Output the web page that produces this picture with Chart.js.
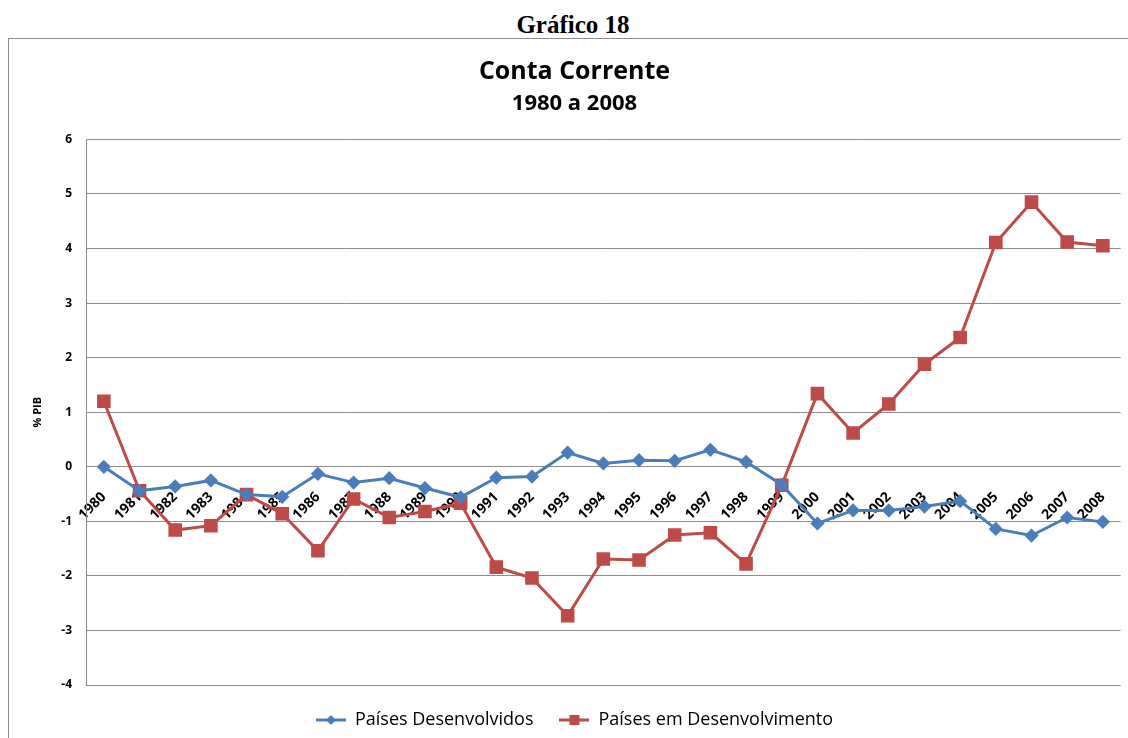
<!DOCTYPE html>
<html>
<head>
<meta charset="utf-8">
<script src="https://cdn.jsdelivr.net/npm/chart.js@4.4.1/dist/chart.umd.min.js"></script>
<style>
  html, body { margin: 0; padding: 0; background: #fff; width: 1128px; height: 738px; overflow: hidden; }
  #heading { position: absolute; left: 0; top: 10px; width: 1146px; text-align: center;
    font-family: "Liberation Serif", "DejaVu Serif", serif; font-weight: bold; font-size: 25px; color: #000; line-height: 30px; }
  #frame { position: absolute; left: 8px; top: 38px; width: 1140px; height: 720px; border: 1px solid #8c8c8c; box-sizing: border-box; }
  #wrap { position: absolute; left: 9px; top: 39px; width: 1128px; height: 700px; }
</style>
</head>
<body>
<div id="heading">Gráfico 18</div>
<div id="frame"></div>
<div id="wrap"><canvas id="c"></canvas></div>
<script>
const chartTitle = "Conta Corrente";
const chartSubtitle = "1980 a 2008";
const yAxisTitle = "% PIB";
const years = ["1980","1981","1982","1983","1984","1985","1986","1987","1988","1989",
               "1990","1991","1992","1993","1994","1995","1996","1997","1998","1999",
               "2000","2001","2002","2003","2004","2005","2006","2007","2008"];
const seriesNames = ["Países Desenvolvidos", "Países em Desenvolvimento"];
const developed = [0, -0.44, -0.36, -0.25, -0.51, -0.55, -0.13, -0.29, -0.21, -0.39,
                   -0.56, -0.2, -0.18, 0.26, 0.06, 0.12, 0.11, 0.31, 0.09, -0.33,
                   -1.04, -0.8, -0.8, -0.73, -0.63, -1.14, -1.26, -0.93, -1.01];
const developing = [1.2, -0.44, -1.16, -1.08, -0.51, -0.86, -1.54, -0.59, -0.93, -0.82,
                    -0.67, -1.84, -2.04, -2.73, -1.69, -1.71, -1.25, -1.21, -1.78, -0.34,
                    1.34, 0.62, 1.15, 1.88, 2.37, 4.11, 4.85, 4.12, 4.05];
const yMin = -4, yMax = 6, yStep = 1;

const BLUE = "#4A7EBB";
const RED = "#BE4B48";
const GRID = "#8c8c8c";
const FONT = "'Open Sans', 'Noto Sans', sans-serif";

function legendIcon(color, shape) {
  const cv = document.createElement("canvas");
  cv.width = 30; cv.height = 14;
  const g = cv.getContext("2d");
  g.strokeStyle = color; g.lineWidth = 3;
  g.beginPath(); g.moveTo(0, 7); g.lineTo(30, 7); g.stroke();
  g.fillStyle = color;
  g.beginPath();
  if (shape === "diamond") {
    g.moveTo(15, 2); g.lineTo(20, 7); g.lineTo(15, 12); g.lineTo(10, 7); g.closePath();
  } else {
    g.rect(10, 2, 10, 10);
  }
  g.fill();
  return cv;
}
const icons = [legendIcon(BLUE, "diamond"), legendIcon(RED, "square")];

new Chart(document.getElementById("c"), {
  type: "line",
  data: {
    labels: years,
    datasets: [
      { label: seriesNames[0], data: developed, borderColor: BLUE, backgroundColor: BLUE,
        borderWidth: 3, pointStyle: "rectRot", pointRadius: 5, pointHoverRadius: 5, tension: 0 },
      { label: seriesNames[1], data: developing, borderColor: RED, backgroundColor: RED,
        borderWidth: 3, pointStyle: "rect", pointRadius: 7.5, pointHoverRadius: 7.5, tension: 0 }
    ]
  },
  options: {
    responsive: true,
    maintainAspectRatio: false,
    animation: false,
    layout: { padding: { top: 18, left: 18, right: 15, bottom: 0 } },
    plugins: {
      title: { display: true, text: chartTitle, color: "#000",
        font: { family: FONT, size: 25, weight: "bold" }, padding: { top: 0, bottom: 2 } },
      subtitle: { display: true, text: chartSubtitle, color: "#000",
        font: { family: FONT, size: 22, weight: "bold" }, padding: { top: 2, bottom: 22 } },
      legend: {
        position: "bottom",
        labels: {
          usePointStyle: true, pointStyleWidth: 30, color: "#000", padding: 26,
          font: { family: FONT, size: 18 },
          generateLabels: (chart) => chart.data.datasets.map((ds, i) => ({
            text: ds.label, pointStyle: icons[i], fillStyle: ds.borderColor,
            strokeStyle: ds.borderColor, lineWidth: 0, datasetIndex: i, hidden: false
          }))
        }
      },
      tooltip: { enabled: false }
    },
    scales: {
      x: {
        position: { y: 0 },
        offset: true,
        grid: { display: false, drawTicks: false },
        border: { display: false },
        ticks: { color: "#000", font: { family: FONT, size: 14, weight: "bold" },
          minRotation: 45, maxRotation: 45, autoSkip: false, padding: 22 },
        afterFit: (s) => { s.height = 0; }
      },
      y: {
        min: yMin, max: yMax,
        ticks: { stepSize: yStep, color: "#000", font: { family: FONT, size: 12, weight: "bold" }, padding: 14 },
        grid: { color: GRID, lineWidth: 1, drawTicks: false },
        border: { display: true, color: GRID, width: 1 },
        title: { display: true, text: yAxisTitle, color: "#000",
          font: { family: FONT, size: 11, weight: "bold" }, padding: { top: 4, bottom: 4 } },
        afterFit: (s) => { s.width = 59; }
      }
    }
  }
});
</script>
</body>
</html>
